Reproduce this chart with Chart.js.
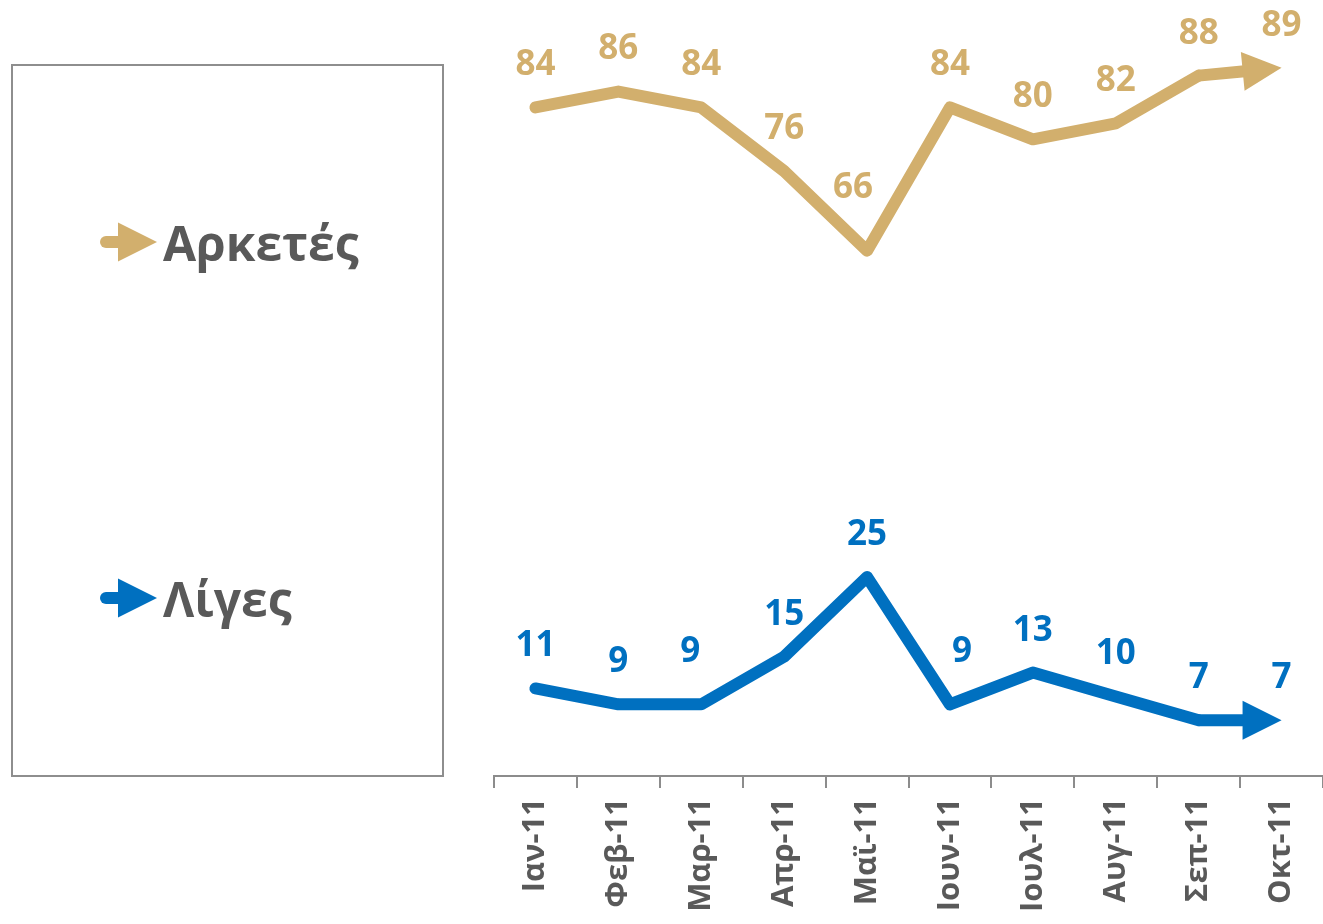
<!DOCTYPE html>
<html>
<head>
<meta charset="utf-8">
<script src="https://cdn.jsdelivr.net/npm/chart.js@4.4.1/dist/chart.umd.min.js"></script>
<style>
  html, body { margin: 0; padding: 0; background: #fff; }
  #wrap { position: relative; width: 1323px; height: 924px; }
  #legendBox {
    position: absolute; left: 11px; top: 64px; width: 429px; height: 709px;
    border: 2px solid #8e8e8e;
  }
  .item {
    position: absolute; left: 100px; display: flex; align-items: center;
    font-family: "Open Sans", sans-serif; font-weight: bold; font-size: 48px;
    color: #595959; height: 40px;
  }
  .item svg { display: block; margin-right: 3px; }
</style>
</head>
<body>
<div id="wrap">
  <div id="legendBox"></div>
  <div class="item" id="leg0" style="top:222px"></div>
  <div class="item" id="leg1" style="top:578px"></div>
  <canvas id="chart"></canvas>
</div>
<script>
const months = ["Ιαν-11", "Φεβ-11", "Μαρ-11", "Απρ-11", "Μαϊ-11", "Ιουν-11", "Ιουλ-11", "Αυγ-11", "Σεπ-11", "Οκτ-11"];
const seriesNames = ["Αρκετές", "Λίγες"];
const arketes = [84, 86, 84, 76, 66, 84, 80, 82, 88, 89];
const liges = [11, 9, 9, 15, 25, 9, 13, 10, 7, 7];

const GOLD = "#D2AF6D";
const BLUE = "#0070C0";
const GRAY = "#595959";
const FONT = '"Open Sans", sans-serif';

// legend on the left
function arrowSvg(color) {
  return '<svg width="60" height="40" viewBox="0 0 60 40">' +
    '<line x1="6" y1="20" x2="22" y2="20" stroke="' + color + '" stroke-width="12" stroke-linecap="round"/>' +
    '<polygon points="18,0.5 57,20 18,39.5" fill="' + color + '"/></svg>';
}
[GOLD, BLUE].forEach((c, i) => {
  const el = document.getElementById("leg" + i);
  el.innerHTML = arrowSvg(c) + "<span>" + seriesNames[i] + "</span>";
});

const lastIdx = months.length - 1;

// arrow ends + value labels
const arrowLabels = {
  id: "arrowLabels",
  afterDatasetsDraw(chart, args, opts) {
    const ctx = chart.ctx;
    chart.data.datasets.forEach((ds, di) => {
      const pts = chart.getDatasetMeta(di).data;
      const a = pts[lastIdx - 1], b = pts[lastIdx];
      const dx = b.x - a.x, dy = b.y - a.y;
      const len = Math.hypot(dx, dy);
      const ux = dx / len, uy = dy / len;
      const head = 39, half = 19.5;
      const bx = b.x - ux * head, by = b.y - uy * head;
      ctx.save();
      ctx.strokeStyle = ds.borderColor;
      ctx.lineWidth = ds.borderWidth;
      ctx.lineCap = "butt";
      ctx.beginPath();
      ctx.moveTo(a.x, a.y);
      ctx.lineTo(bx + ux * 2, by + uy * 2);
      ctx.stroke();
      ctx.fillStyle = ds.borderColor;
      ctx.beginPath();
      ctx.moveTo(b.x, b.y);
      ctx.lineTo(bx - uy * half, by + ux * half);
      ctx.lineTo(bx + uy * half, by - ux * half);
      ctx.closePath();
      ctx.fill();

      ctx.font = "bold 35px " + FONT;
      ctx.textAlign = "center";
      ctx.textBaseline = "middle";
      pts.forEach((p, i) => {
        const sh = (opts.shift[di] && opts.shift[di][i]) || [0, 0];
        ctx.fillText(String(ds.data[i]), p.x + sh[0], p.y - 42 + sh[1]);
      });
      ctx.restore();
    });
  }
};

new Chart(document.getElementById("chart"), {
  type: "line",
  data: {
    labels: months,
    datasets: [
      { label: seriesNames[0], data: arketes, borderColor: GOLD },
      { label: seriesNames[1], data: liges, borderColor: BLUE }
    ].map(d => Object.assign(d, {
      borderWidth: 12,
      borderCapStyle: "round",
      borderJoinStyle: "round",
      pointRadius: 0,
      tension: 0,
      clip: false,
      segment: {
        borderColor: c => c.p1DataIndex === lastIdx ? "rgba(0,0,0,0)" : undefined
      }
    }))
  },
  options: {
    responsive: true,
    maintainAspectRatio: false,
    animation: false,
    layout: { padding: { left: 494, right: 0, top: 0, bottom: 0 } },
    plugins: {
      legend: { display: false },
      tooltip: { enabled: false },
      arrowLabels: {
        shift: {
          0: { 4: [-14, -21] },
          1: { 2: [-11, -10], 5: [12, -10] }
        }
      }
    },
    scales: {
      y: { display: false, min: 0, max: 97.5 },
      x: {
        offset: true,
        afterFit(scale) { scale.height = 148; scale.paddingLeft = 0; scale.paddingRight = 0; },
        border: { display: true, color: "#8c8c8c", width: 2 },
        grid: {
          display: true, drawOnChartArea: false, drawTicks: true,
          tickLength: 12, color: "#8c8c8c", lineWidth: 2, offset: true
        },
        ticks: {
          color: GRAY, font: { family: FONT, weight: "bold", size: 31 },
          minRotation: 90, maxRotation: 90, padding: 10, autoSkip: false
        }
      }
    }
  },
  plugins: [arrowLabels]
});
</script>
</body>
</html>
